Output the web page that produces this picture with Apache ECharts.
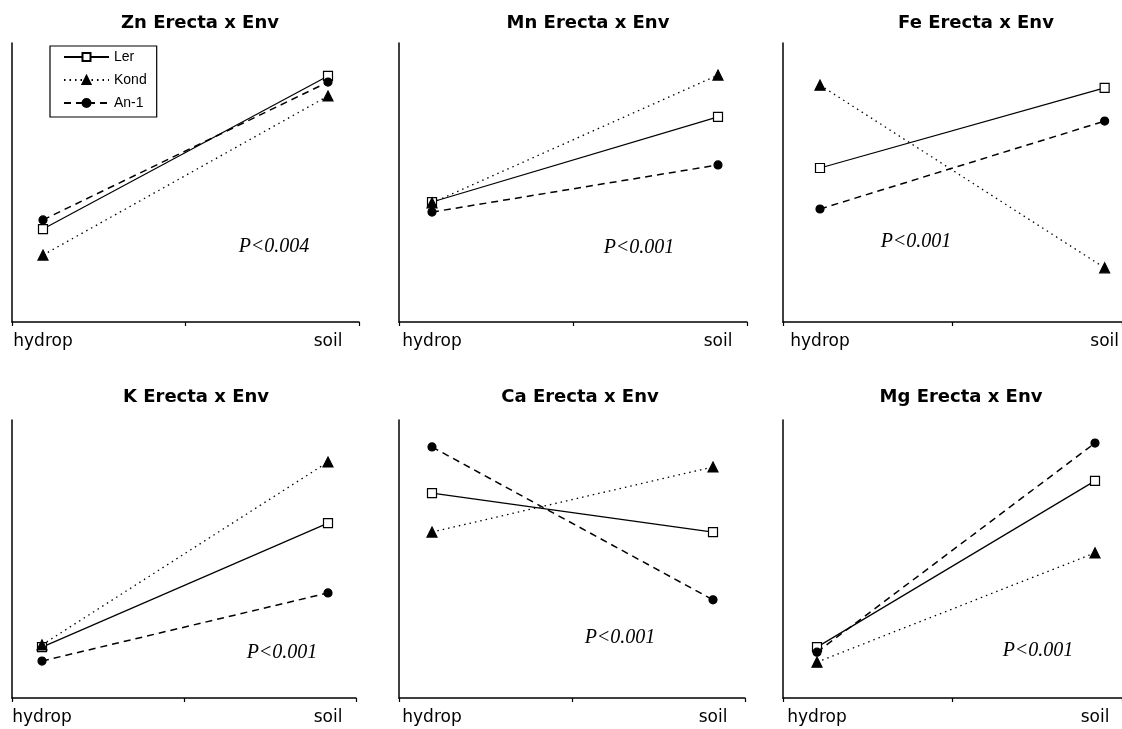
<!DOCTYPE html>
<html><head><meta charset="utf-8">
<script src="https://cdn.jsdelivr.net/npm/echarts@6/dist/echarts.min.js"></script>
<style>html,body{margin:0;padding:0;background:#fff}#c{width:1122px;height:729px}</style>
</head><body><div id="c"></div>
<script>
// ---- data ----
const categories = ['hydrop', 'soil'];
const seriesNames = ['Ler', 'Kond', 'An-1'];
const panelTitles = ['Zn Erecta x Env', 'Mn Erecta x Env', 'Fe Erecta x Env', 'K Erecta x Env', 'Ca Erecta x Env', 'Mg Erecta x Env'];
const pLabels = ['P<0.004', 'P<0.001', 'P<0.001', 'P<0.001', 'P<0.001', 'P<0.001'];
// relative values (0-100 of the axis height), one [hydrop, soil] pair per panel
const lerValues  = [[33.3, 88.2], [43.0, 73.5], [55.2, 83.9], [18.3, 62.9], [73.7, 59.7], [18.3, 78.1]];
const kondValues = [[24.0, 81.0], [42.7, 88.5], [84.9, 19.4], [19.1, 84.9], [59.7, 83.1], [12.9, 52.2]];
const an1Values  = [[36.6, 86.0], [39.4, 56.3], [40.5, 72.0], [13.3, 37.8], [90.3, 35.3], [16.5, 91.7]];

// ---- layout ----
const layout = [
  {axL: 12,  axR: 359,  top: 43,  bot: 322, ptL: 43,  ptR: 328,  tx: 200, ty: 14,  px: 274,  py: 247},
  {axL: 399, axR: 747,  top: 43,  bot: 322, ptL: 432, ptR: 718,  tx: 588, ty: 14,  px: 639,  py: 248},
  {axL: 783, axR: 1143, top: 43,  bot: 322, ptL: 820, ptR: 1106, tx: 976, ty: 14,  px: 916,  py: 242},
  {axL: 12,  axR: 356,  top: 420, bot: 698, ptL: 42,  ptR: 328,  tx: 196, ty: 388, px: 282,  py: 653},
  {axL: 399, axR: 745,  top: 420, bot: 698, ptL: 432, ptR: 713,  tx: 580, ty: 388, px: 620,  py: 638},
  {axL: 783, axR: 1131, top: 420, bot: 698, ptL: 817, ptR: 1095, tx: 961, ty: 388, px: 1038, py: 651}
];

const valueSets = [lerValues, kondValues, an1Values];
const styles = [
  {symbol: 'rect', symbolSize: 9, fill: '#fff', line: 'solid', width: 1.2},
  {symbol: 'triangle', symbolSize: 10, fill: '#000', line: [1.5, 4], width: 1.3},
  {symbol: 'circle', symbolSize: 8, fill: '#000', line: [7, 5], width: 1.5}
];

const grid = [], xAxis = [], yAxis = [], series = [], title = [], graphic = [];
const black = '#000';
layout.forEach((L, i) => {
  const h = L.bot - L.top;
  grid.push({left: L.axL, top: L.top, width: L.axR - L.axL, height: h});
  grid.push({left: L.ptL, top: L.top, width: L.ptR - L.ptL, height: h});
  xAxis.push({type: 'value', gridIndex: 2 * i, min: 0, max: 2, interval: 1,
    axisLine: {show: true, lineStyle: {color: black, width: 1.5}},
    axisTick: {show: true, length: 4, lineStyle: {color: black, width: 1.2}},
    axisLabel: {show: false}, splitLine: {show: false}});
  xAxis.push({type: 'category', gridIndex: 2 * i + 1, data: categories, boundaryGap: false,
    axisLine: {show: false}, axisTick: {show: false},
    axisLabel: {interval: 0, margin: 11, fontSize: 17, fontFamily: 'DejaVu Sans', color: black}});
  yAxis.push({type: 'value', gridIndex: 2 * i, min: 0, max: 100,
    axisLine: {show: true, lineStyle: {color: black, width: 1.5}},
    axisTick: {show: false}, axisLabel: {show: false}, splitLine: {show: false}});
  yAxis.push({type: 'value', gridIndex: 2 * i + 1, min: 0, max: 100, show: false, splitLine: {show: false}});
  seriesNames.forEach((name, k) => {
    const s = styles[k];
    series.push({
      type: 'line', name: name, xAxisIndex: 2 * i + 1, yAxisIndex: 2 * i + 1,
      data: valueSets[k][i], symbol: s.symbol, symbolSize: s.symbolSize, showAllSymbol: true,
      lineStyle: {color: black, width: s.width, type: s.line},
      itemStyle: {color: s.fill, borderColor: black, borderWidth: 1.2},
      emphasis: {disabled: true}, animation: false, z: 3 + k
    });
  });
  title.push({text: panelTitles[i], left: L.tx, top: L.ty, textAlign: 'center', padding: 0,
    textStyle: {fontFamily: 'DejaVu Sans', fontWeight: 'bold', fontSize: 18, color: black}});
  graphic.push({type: 'text', x: L.px, y: L.py, z: 10,
    style: {text: pLabels[i], fontFamily: 'Liberation Serif', fontStyle: 'italic', fontSize: 20,
      fill: black, align: 'center', verticalAlign: 'middle'}});
});

const chart = echarts.init(document.getElementById('c'), null, {renderer: 'canvas'});
chart.setOption({
  backgroundColor: '#fff',
  animation: false,
  title: title,
  grid: grid,
  xAxis: xAxis,
  yAxis: yAxis,
  series: series,
  graphic: graphic,
  legend: {
    data: seriesNames, orient: 'vertical', left: 50, top: 46,
    padding: [4, 10, 7, 13], itemGap: 9, itemWidth: 45, itemHeight: 10,
    borderColor: black, borderWidth: 1.2, backgroundColor: '#fff', selectedMode: false,
    textStyle: {fontSize: 14, fontFamily: 'Liberation Sans', color: black}
  },
  tooltip: {show: false}
});
</script>
</body></html>
